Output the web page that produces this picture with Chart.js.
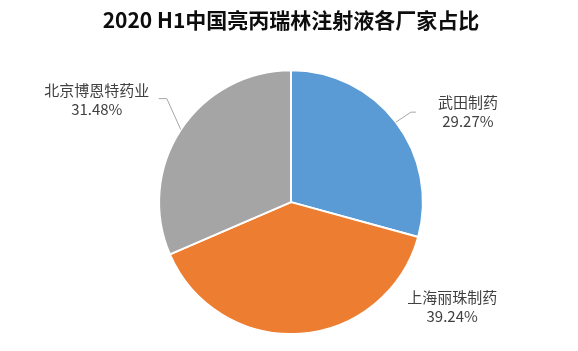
<!DOCTYPE html>
<html>
<head>
<meta charset="utf-8">
<script src="https://cdn.jsdelivr.net/npm/chart.js@4.4.1/dist/chart.umd.min.js"></script>
<style>
  html, body { margin: 0; padding: 0; background: #fff; }
  #wrap { width: 578px; height: 351px; }
</style>
</head>
<body>
<div id="wrap"><canvas id="myChart" width="578" height="351"></canvas></div>
<script>
// Chart data
var companies = ['武田制药', '上海丽珠制药', '北京博恩特药业'];
var shares = [29.27, 39.24, 31.48];
var sliceColors = ['#5B9BD5', '#ED7D31', '#A5A5A5'];
var chartTitle = '2020 H1中国亮丙瑞林注射液各厂家占比';

// Where each label sits, relative to the middle of its slice's outer edge
var labelOffsets = [[72, -10], [152, -27], [-84, -30]];
// Leader lines: [elbow, end] relative to the same point, null = no line
var leaderOffsets = [
    [[15, -10], [20, -10]],
    null,
    [[-14, -31], [-22, -31]]
];

var labelFont = '15px "Noto Sans CJK SC", sans-serif';

// Draws the outside labels and the leader lines
var outsideLabels = {
    id: 'outsideLabels',
    afterDatasetsDraw: function(chart) {
        var ctx = chart.ctx;
        var meta = chart.getDatasetMeta(0);
        var total = shares.reduce(function(a, b) { return a + b; }, 0);

        meta.data.forEach(function(arc, i) {
            var props = arc.getProps(['x', 'y', 'startAngle', 'endAngle', 'outerRadius']);
            var mid = (props.startAngle + props.endAngle) / 2;
            var ex = props.x + Math.cos(mid) * props.outerRadius;
            var ey = props.y + Math.sin(mid) * props.outerRadius;

            var leader = leaderOffsets[i];
            if (leader) {
                ctx.save();
                ctx.strokeStyle = '#A6A6A6';
                ctx.lineWidth = 1;
                ctx.beginPath();
                ctx.moveTo(ex, ey);
                ctx.lineTo(ex + leader[0][0], ey + leader[0][1]);
                ctx.lineTo(ex + leader[1][0], ey + leader[1][1]);
                ctx.stroke();
                ctx.restore();
            }

            var lx = ex + labelOffsets[i][0];
            var ly = ey + labelOffsets[i][1];
            var pct = (shares[i] / total * 100).toFixed(2) + '%';

            ctx.save();
            ctx.font = labelFont;
            ctx.fillStyle = '#404040';
            ctx.textAlign = 'center';
            ctx.textBaseline = 'middle';
            ctx.fillText(companies[i], lx, ly - 9.5);
            ctx.fillText(pct, lx, ly + 9.5);
            ctx.restore();
        });
    }
};

var ctx = document.getElementById('myChart').getContext('2d');

var config = {
    type: 'pie',
    data: {
        labels: companies,
        datasets: [{
            data: shares,
            backgroundColor: sliceColors,
            borderColor: '#ffffff',
            borderWidth: 2
        }]
    },
    options: {
        responsive: false,
        animation: false,
        devicePixelRatio: 1,
        layout: {
            padding: { left: 4, right: 0, top: 0, bottom: 16 }
        },
        plugins: {
            legend: { display: false },
            tooltip: { enabled: false },
            title: {
                display: true,
                text: chartTitle,
                color: '#0d0d0d',
                font: { family: '"Noto Sans CJK SC", sans-serif', size: 21, weight: 'bold', lineHeight: 1.2 },
                padding: { top: 7, bottom: 37 }
            }
        }
    },
    plugins: [outsideLabels]
};

var myChart = new Chart(ctx, config);
</script>
</body>
</html>
